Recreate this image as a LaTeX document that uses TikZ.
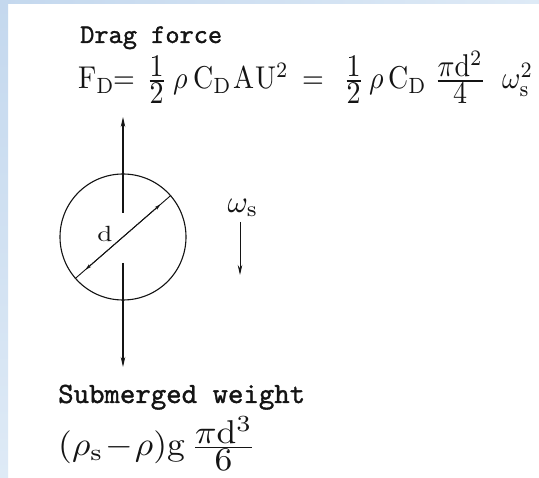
\documentclass[tikz,border=0pt]{standalone}
\usepackage{amsmath}
\usepackage{graphicx}
\usepackage{fontspec}
\newfontfamily\labeltt{lmmono10-regular}[Extension=.otf, FakeBold=1.2]
\usetikzlibrary{arrows.meta}
\definecolor{ink}{RGB}{20,20,20}
\definecolor{slideblue}{RGB}{196,216,238}
\definecolor{slidepale}{RGB}{222,234,246}
\newcommand{\wm}[1]{\scalebox{2.8}[3.15]{$\textstyle #1$}}
\newcommand{\mfrac}[2]{{\textstyle\frac{\textstyle #1}{\textstyle #2}}}
\tikzset{
  force/.style={draw=ink, line width=1.1pt, -{Stealth[length=10pt,width=4.5pt]}},
  dimtip/.style={draw=ink, line width=0.9pt, {Stealth[length=6pt,width=3.5pt]}-{Stealth[length=6pt,width=3.5pt]}},
  lbl/.style={inner sep=0pt, text=ink, anchor=base west},
}
\begin{document}
\begin{tikzpicture}[x=1pt,y=-1pt]
\useasboundingbox (0,0) rectangle (539,478);
\fill[white] (0,0) rectangle (539,478);
\shade[top color=slideblue, bottom color=slidepale] (0,0) rectangle (8,478);
\shade[left color=slideblue, right color=slidepale] (0,0) rectangle (539,4);
% drag force label and formula
\node[lbl] (drag) at (80,43) {\resizebox{142pt}{!}{\labeltt Drag force}};
\node[lbl] (e1) at (78,89) {\wm{\mathrm{F}_{\mathrm{D}}}};
\node[lbl] (e2) at (113,89) {\wm{=}};
\node[lbl] (e3) at (146,89) {\wm{\mfrac{1}{2}}};
\node[lbl] (e4) at (173,89) {\wm{\rho}};
\node[lbl] (e5) at (193,89) {\wm{\mathrm{C}_{\mathrm{D}}}};
\node[lbl] (e6) at (233,89) {\wm{\mathrm{A}}};
\node[lbl] (e7) at (255,89) {\wm{\mathrm{U}^2}};
\node[lbl] (e8) at (302,89) {\wm{=}};
\node[lbl] (e9) at (343,89) {\wm{\mfrac{1}{2}}};
\node[lbl] (e10) at (369,89) {\wm{\rho}};
\node[lbl] (e11) at (388,89) {\wm{\mathrm{C}_{\mathrm{D}}}};
\node[lbl] (e12) at (434,89) {\wm{\mfrac{\pi\mathrm{d}^2}{4}}};
\node[lbl] (e13) at (502,89) {\wm{\omega_{\mathrm{s}}^2}};
% submerged weight label and formula
\node[lbl] (sub) at (58,403) {\resizebox{247pt}{!}{\labeltt Submerged weight}};
\node[lbl] (wt) at (58,456) {\scalebox{3.55}[3.3]{$\textstyle (\rho_{\mathrm{s}}\!-\!\rho)\mathrm{g}\,\mfrac{\pi\mathrm{d}^3}{6}$}};
% particle
\node[draw=ink, line width=1.1pt, circle, minimum size=126pt, inner sep=0pt] (p) at (123,237) {};
\node[text=ink, inner sep=0pt] (dl) at (105,234) {\scalebox{2.7}[2.2]{$\mathrm{d}$}};
\coordinate (pa) at (p.41);
\coordinate (pb) at (p.221);
\draw[ink, line width=0.9pt] (pa) -- (pb);
\draw[dimtip, shorten <=14pt, shorten >=14pt] (pb) -- (pa);
% forces
\coordinate (upS) at (123,213);
\coordinate (upE) at (123,117);
\coordinate (dnS) at (123,263);
\coordinate (dnE) at (123,367);
\draw[force] (upS) -- (upE);
\draw[force] (dnS) -- (dnE);
% settling velocity
\node[text=ink, inner sep=0pt] (ws) at (243,208) {\scalebox{3.1}[3.1]{$\omega_{\mathrm{s}}$}};
\coordinate (wsS) at (240,222);
\coordinate (wsE) at (240,275);
\draw[force, line width=0.9pt] (wsS) -- (wsE);
\end{tikzpicture}
\end{document}
